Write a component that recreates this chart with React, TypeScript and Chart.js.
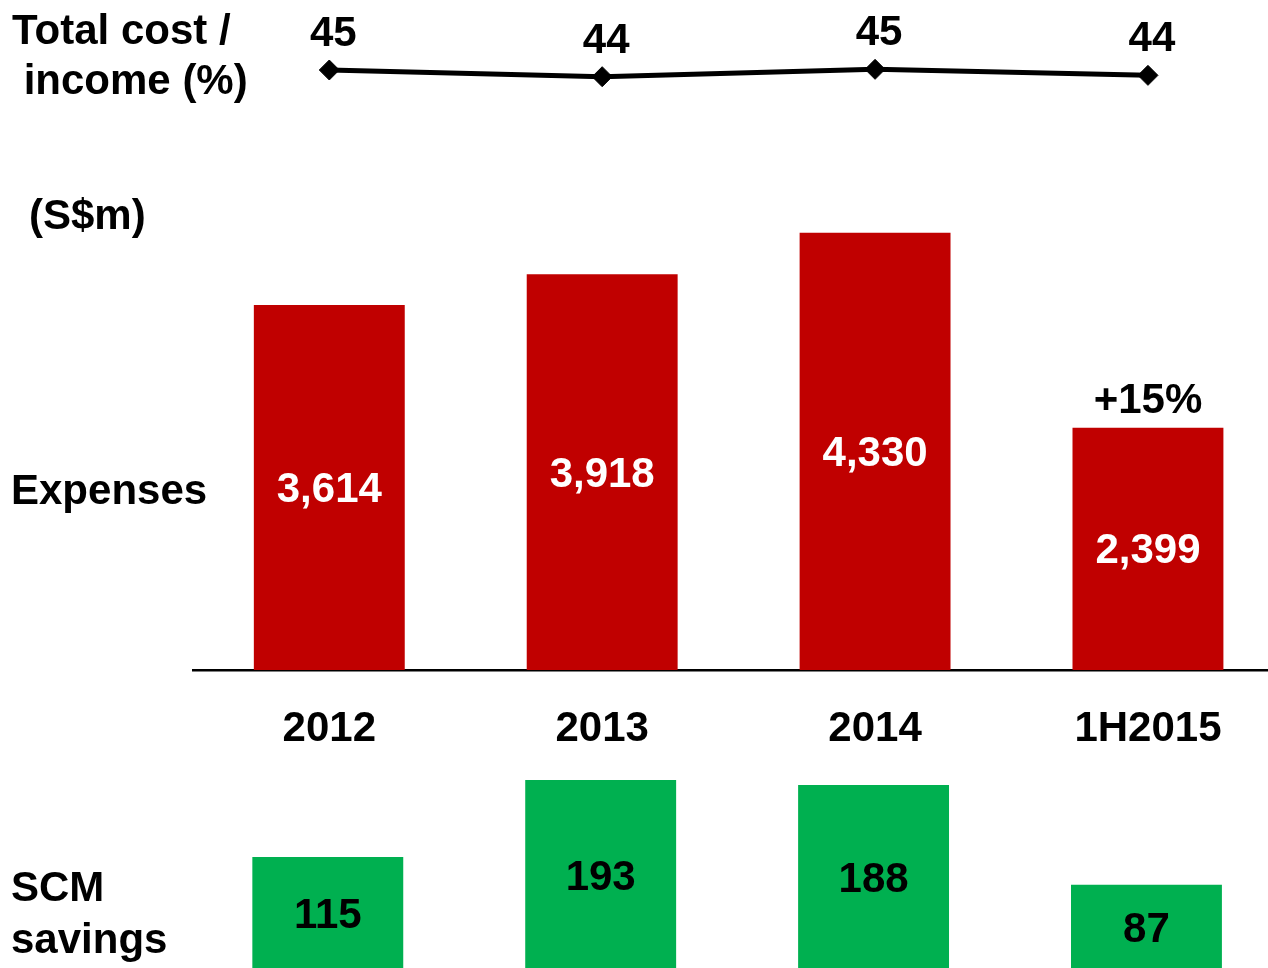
import React, { useEffect, useRef } from 'react';
import { Chart, registerables } from 'chart.js';

Chart.register(...registerables);

// ---- data ----
const categories = ['2012', '2013', '2014', '1H2015'];
const costIncome = [45.0, 44.0, 45.1, 44.2];
const expenses = [3614, 3918, 4330, 2399];
const expenseNotes = ['', '', '', '+15%'];
const scmSavings = [115, 193, 188, 87];

// ---- style ----
const FONT = '"Liberation Sans", Arial, Helvetica, sans-serif';
const RED = '#C00000';
const GREEN = '#00B050';
const W = 1300;
const H = 980;
const FS = 42;

const barLabelPlugin = {
  id: 'barLabels',
  afterDatasetsDraw(chart: any, _args: any, opts: any) {
    const { ctx } = chart;
    chart.data.datasets.forEach((ds: any, di: number) => {
      const meta = chart.getDatasetMeta(di);
      meta.data.forEach((el: any, i: number) => {
        const v = ds.data[i] as number;
        const { x, y, base } = el.getProps(['x', 'y', 'base'], true);
        ctx.save();
        ctx.font = `bold ${FS}px ${FONT}`;
        ctx.textAlign = 'center';
        ctx.textBaseline = 'middle';
        ctx.fillStyle = opts.color;
        ctx.fillText(v.toLocaleString('en-US'), x, (y + base) / 2 + (opts.dy || 0));
        const note = opts.notes ? opts.notes[i] : '';
        if (note) {
          ctx.fillStyle = opts.noteColor || '#000';
          ctx.fillText(note, x, y - 26);
        }
        ctx.restore();
      });
    });
  },
};

const lineLabelPlugin = {
  id: 'lineLabels',
  afterDatasetsDraw(chart: any) {
    const { ctx } = chart;
    const ds = chart.data.datasets[0];
    const meta = chart.getDatasetMeta(0);
    meta.data.forEach((el: any, i: number) => {
      const v = ds.data[i] as number;
      ctx.save();
      ctx.font = `bold ${FS}px ${FONT}`;
      ctx.textAlign = 'center';
      ctx.textBaseline = 'alphabetic';
      ctx.fillStyle = '#000';
      ctx.fillText(String(Math.round(v)), el.x + 4, el.y - 24);
      ctx.restore();
    });
  },
};

function useChart(ref: React.RefObject<HTMLCanvasElement>, makeConfig: () => any) {
  useEffect(() => {
    if (!ref.current) return;
    const chart = new Chart(ref.current, makeConfig());
    return () => chart.destroy();
  }, []);
}

const baseOptions = {
  responsive: false,
  maintainAspectRatio: false,
  animation: false as const,
  events: [] as any[],
};

export default function App() {
  const lineRef = useRef<HTMLCanvasElement>(null);
  const expRef = useRef<HTMLCanvasElement>(null);
  const scmRef = useRef<HTMLCanvasElement>(null);

  useChart(lineRef, () => ({
    type: 'line',
    data: {
      labels: categories,
      datasets: [
        {
          data: costIncome,
          borderColor: '#000',
          borderWidth: 5,
          pointStyle: 'rectRot',
          pointRadius: 10,
          pointBackgroundColor: '#000',
          pointBorderColor: '#000',
          pointBorderWidth: 1,
          tension: 0,
          clip: false,
        },
      ],
    },
    options: {
      ...baseOptions,
      layout: { padding: { left: 192.85, right: W - 1284.4, top: 36.5, bottom: H - 103.5 } },
      scales: {
        x: { display: false, offset: true },
        y: { display: false, min: 40, max: 50 },
      },
      plugins: { legend: { display: false }, tooltip: { enabled: false } },
    },
    plugins: [lineLabelPlugin],
  }));

  useChart(expRef, () => ({
    type: 'bar',
    data: {
      labels: categories,
      datasets: [
        {
          data: expenses,
          backgroundColor: RED,
          categoryPercentage: 0.553,
          barPercentage: 1,
        },
      ],
    },
    options: {
      ...baseOptions,
      layout: { padding: { left: 192.85, right: W - 1284.4, top: 165, bottom: H - 670 - 100 } },
      scales: {
        x: {
          grid: { display: false, drawTicks: false },
          border: { display: true, color: '#000', width: 2.5 },
          ticks: { color: '#000', font: { family: FONT, size: FS, weight: 'bold' }, padding: 34 },
          afterFit: (s: any) => {
            s.height = 100;
          },
        },
        y: { display: false, min: 0, max: 5000 },
      },
      plugins: {
        legend: { display: false },
        tooltip: { enabled: false },
        barLabels: { color: '#fff', notes: expenseNotes, noteColor: '#000', dy: 3 },
      },
    },
    plugins: [barLabelPlugin],
  }));

  useChart(scmRef, () => ({
    type: 'bar',
    data: {
      labels: categories,
      datasets: [
        {
          data: scmSavings,
          backgroundColor: GREEN,
          categoryPercentage: 0.553,
          barPercentage: 1,
        },
      ],
    },
    options: {
      ...baseOptions,
      layout: { padding: { left: 191.35, right: W - 1282.9, top: 773.1, bottom: H - 970.5 } },
      scales: {
        x: { display: false },
        y: { display: false, min: 0, max: 200 },
      },
      plugins: {
        legend: { display: false },
        tooltip: { enabled: false },
        barLabels: { color: '#000', dy: 3 },
      },
    },
    plugins: [barLabelPlugin],
  }));

  const canvasStyle: React.CSSProperties = { position: 'absolute', left: 0, top: 0, width: W, height: H };
  const textStyle: React.CSSProperties = {
    position: 'absolute',
    fontFamily: FONT,
    fontWeight: 'bold',
    fontSize: FS,
    lineHeight: '50px',
    color: '#000',
    whiteSpace: 'pre',
  };

  return (
    <div
      style={{
        position: 'absolute',
        left: 0,
        top: 0,
        width: 1268,
        height: 968,
        overflow: 'hidden',
        background: '#fff',
      }}
    >
      <canvas ref={lineRef} width={W} height={H} style={canvasStyle} />
      <canvas ref={expRef} width={W} height={H} style={canvasStyle} />
      <canvas ref={scmRef} width={W} height={H} style={canvasStyle} />
      <div style={{ ...textStyle, left: 12, top: 5 }}>{'Total cost /\n income (%)'}</div>
      <div style={{ ...textStyle, left: 29, top: 190 }}>(S$m)</div>
      <div style={{ ...textStyle, left: 11, top: 465 }}>Expenses</div>
      <div style={{ ...textStyle, left: 11, top: 861, lineHeight: '52px' }}>{'SCM\nsavings'}</div>
    </div>
  );
}
